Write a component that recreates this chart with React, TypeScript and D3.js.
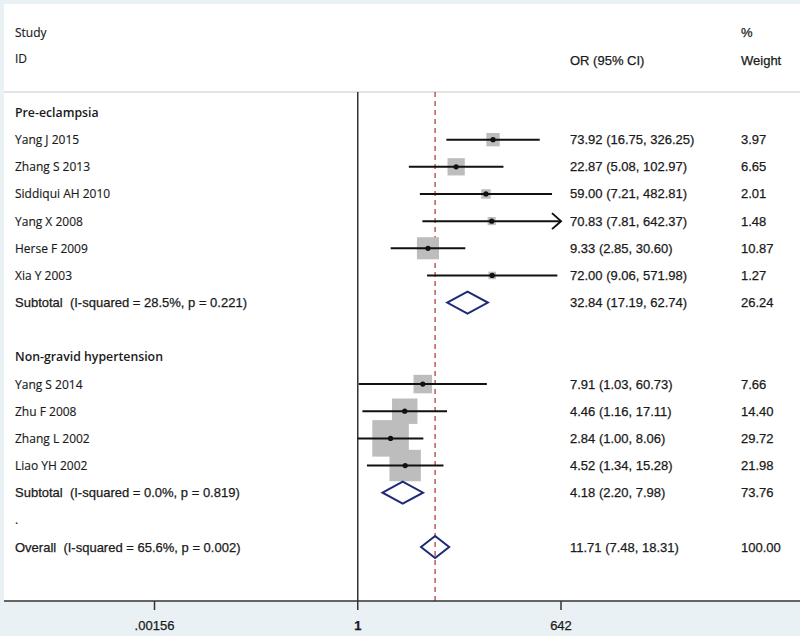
import React from "react";
import * as d3 from "d3";

// ---- Data ----
const groupNames = ["Pre-eclampsia", "Non-gravid hypertension"];

const g1Studies = ["Yang J 2015", "Zhang S 2013", "Siddiqui AH 2010", "Yang X 2008", "Herse F 2009", "Xia Y 2003"];
const g1OR = [73.92, 22.87, 59.0, 70.83, 9.33, 72.0];
const g1Lo = [16.75, 5.08, 7.21, 7.81, 2.85, 9.06];
const g1Hi = [326.25, 102.97, 482.81, 642.37, 30.6, 571.98];
const g1W = [3.97, 6.65, 2.01, 1.48, 10.87, 1.27];

const g2Studies = ["Yang S 2014", "Zhu F 2008", "Zhang L 2002", "Liao YH 2002"];
const g2OR = [7.91, 4.46, 2.84, 4.52];
const g2Lo = [1.03, 1.16, 1.0, 1.34];
const g2Hi = [60.73, 17.11, 8.06, 15.28];
const g2W = [7.66, 14.4, 29.72, 21.98];

const subLabels = ["Subtotal  (I-squared = 28.5%, p = 0.221)", "Subtotal  (I-squared = 0.0%, p = 0.819)"];
const subOR = [32.84, 4.18];
const subLo = [17.19, 2.2];
const subHi = [62.74, 7.98];
const subW = [26.24, 73.76];

const overallLabel = "Overall  (I-squared = 65.6%, p = 0.002)";
const overallOR = 11.71;
const overallLo = 7.48;
const overallHi = 18.31;
const overallW = 100.0;

const tickValues = [1 / 642, 1, 642];
const tickLabels = [".00156", "1", "642"];

// ---- Layout ----
type Row =
  | { kind: "header"; label: string }
  | { kind: "study"; label: string; or: number; lo: number; hi: number; w: number }
  | { kind: "sub"; label: string; or: number; lo: number; hi: number; w: number }
  | { kind: "blank"; label: string };

const rows: Row[] = [];
rows.push({ kind: "header", label: groupNames[0] });
g1Studies.forEach((s, i) => rows.push({ kind: "study", label: s, or: g1OR[i], lo: g1Lo[i], hi: g1Hi[i], w: g1W[i] }));
rows.push({ kind: "sub", label: subLabels[0], or: subOR[0], lo: subLo[0], hi: subHi[0], w: subW[0] });
rows.push({ kind: "blank", label: "" });
rows.push({ kind: "header", label: groupNames[1] });
g2Studies.forEach((s, i) => rows.push({ kind: "study", label: s, or: g2OR[i], lo: g2Lo[i], hi: g2Hi[i], w: g2W[i] }));
rows.push({ kind: "sub", label: subLabels[1], or: subOR[1], lo: subLo[1], hi: subHi[1], w: subW[1] });
rows.push({ kind: "blank", label: "." });
rows.push({ kind: "sub", label: overallLabel, or: overallOR, lo: overallLo, hi: overallHi, w: overallW });

const W = 800;
const H = 636;
const axisY = 601;
const headerLineY = 92;
const labelX = 15;
const orX = 570;
const wX = 741;

const fmt2 = d3.format(".2f");

export default function App() {
  const x = d3.scaleLog().domain([1 / 642, 642]).range([154.5, 561]);
  const y = d3.scaleLinear().domain([0, rows.length - 1]).range([112.5, 547]);
  const maxV = 642;
  const minV = 1 / 642;
  const labelFont = "'Open Sans', 'Noto Sans', sans-serif";
  const numFont = "'Liberation Sans', Arial, sans-serif";
  const navy = "#1e2a78";
  const ink = "#1a1a1a";
  const numProps = {
    fontFamily: numFont,
    fontSize: 13,
    fill: ink,
    stroke: ink,
    strokeWidth: 0.25,
    dominantBaseline: "central" as const,
  };
  const lblProps = {
    fontFamily: labelFont,
    fontSize: 12,
    fill: ink,
    stroke: ink,
    strokeWidth: 0.15,
    dominantBaseline: "central" as const,
  };

  return (
    <svg
      width={W}
      height={H}
      style={{ position: "absolute", left: 0, top: 0, display: "block" }}
      xmlns="http://www.w3.org/2000/svg"
    >
      <rect x={0} y={0} width={W} height={H} fill="#e9f1f4" />
      <rect x={4} y={4} width={W - 4} height={axisY - 4} fill="#ffffff" />

      {/* header */}
      <text x={labelX} y={32} {...lblProps}>Study</text>
      <text x={labelX} y={58} {...lblProps}>ID</text>
      <text x={orX} y={60} {...numProps}>OR (95% CI)</text>
      <text x={wX} y={32} {...numProps}>%</text>
      <text x={wX} y={60} {...numProps}>Weight</text>
      <line x1={4} x2={W} y1={headerLineY} y2={headerLineY} stroke="#c8c8c8" strokeWidth={1.2} />

      {/* null line */}
      <line x1={x(1)} x2={x(1)} y1={headerLineY} y2={axisY} stroke="#333" strokeWidth={1.5} />
      {/* overall dashed line */}
      <line
        x1={x(overallOR)}
        x2={x(overallOR)}
        y1={headerLineY}
        y2={axisY}
        stroke="#b8504a"
        strokeWidth={1.4}
        strokeDasharray="5,4"
      />

      {rows.map((r, i) => {
        const cy = y(i);
        if (r.kind === "header") {
          return (
            <text key={i} x={labelX} y={cy} {...lblProps} fontSize={12.3} fontWeight={600} strokeWidth={0}>
              {r.label}
            </text>
          );
        }
        if (r.kind === "blank") {
          return (
            <text key={i} x={labelX} y={cy} {...lblProps}>
              {r.label}
            </text>
          );
        }
        const orText = `${fmt2(r.or)} (${fmt2(r.lo)}, ${fmt2(r.hi)})`;
        const labelEl =
          r.kind === "study" ? (
            <text x={labelX} y={cy} {...lblProps}>
              {r.label}
            </text>
          ) : (
            <text x={labelX} y={cy} {...numProps} style={{ whiteSpace: "pre" }}>
              {r.label}
            </text>
          );
        const nums = (
          <>
            <text x={orX} y={cy} {...numProps}>{orText}</text>
            <text x={wX} y={cy} {...numProps}>{fmt2(r.w)}</text>
          </>
        );
        if (r.kind === "study") {
          const side = 6.7 * Math.sqrt(r.w);
          const arrowRight = r.hi >= maxV;
          const x1 = x(Math.max(r.lo, minV));
          const x2 = x(Math.min(r.hi, maxV));
          return (
            <g key={i}>
              {labelEl}
              <rect x={x(r.or) - side / 2} y={cy - side / 2} width={side} height={side} fill="#bdbdbd" />
              <line x1={x1} x2={x2} y1={cy} y2={cy} stroke="#111" strokeWidth={2} />
              {arrowRight && (
                <path
                  d={`M${x2 - 9},${cy - 8} L${x2},${cy} L${x2 - 9},${cy + 8}`}
                  fill="none"
                  stroke="#111"
                  strokeWidth={2}
                />
              )}
              <circle cx={x(r.or)} cy={cy} r={2.6} fill="#111" />
              {nums}
            </g>
          );
        }
        // diamond
        const hh = 11;
        const d = `M${x(r.lo)},${cy} L${x(r.or)},${cy - hh} L${x(r.hi)},${cy} L${x(r.or)},${cy + hh} Z`;
        return (
          <g key={i}>
            {labelEl}
            <path d={d} fill="none" stroke={navy} strokeWidth={2} strokeLinejoin="miter" />
            {nums}
          </g>
        );
      })}

      {/* axis */}
      <line x1={4} x2={W} y1={axisY} y2={axisY} stroke="#333" strokeWidth={1.6} />
      {tickValues.map((t, i) => (
        <g key={i}>
          <line x1={x(t)} x2={x(t)} y1={axisY} y2={axisY + 9} stroke="#333" strokeWidth={1.5} />
          <text
            x={x(t)}
            y={625}
            textAnchor="middle"
            {...numProps}
            fontWeight={t === 1 ? 700 : 400}
          >
            {tickLabels[i]}
          </text>
        </g>
      ))}
    </svg>
  );
}
